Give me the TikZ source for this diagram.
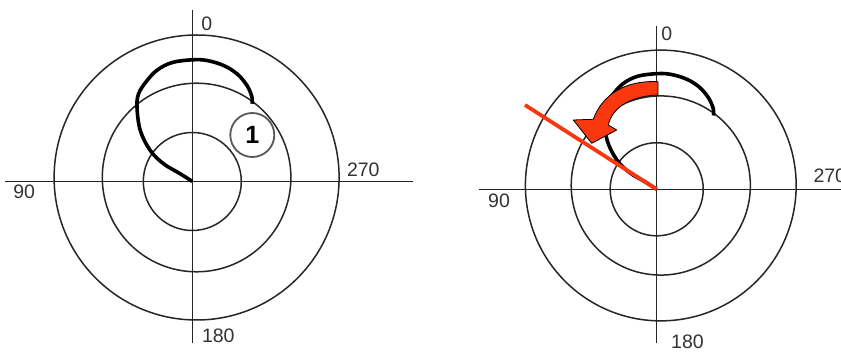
\documentclass[tikz,border=0pt]{standalone}
\usepackage{fontspec}
\setmainfont{Liberation Sans}
\definecolor{hotred}{RGB}{250,55,15}
\newcommand{\mypolar}{%
  \draw[ring] (4.3,-4) circle[radius=142.5];
  \draw[ring] (4.3,-4) circle[radius=94.3];
  \draw[ring] (0,0) circle[radius=49];
  \draw[axis] (-187,0) -- (221,0);
  \draw[axis] (0,-171.5) -- (0,161.5);
  \draw[locus] plot[smooth, tension=0.6] coordinates {(0,0) (-12,-7.7) (-28.7,-17.7) (-42,-31) (-52,-51) (-55.3,-74.3) (-53.7,-87.7) (-46,-100) (-35,-111.5) (-20,-119) (0,-121.7) (14.7,-121) (31.3,-116) (44.7,-107.7) (54.7,-96) (59.7,-84.3) (59.7,-77.7)};
}
\begin{document}
\begin{tikzpicture}[x=1pt,y=-1pt,
  axis/.style={line width=1.5pt, draw=black!85},
  ring/.style={line width=1.5pt, draw=black!85},
  locus/.style={line width=3.6pt, line cap=butt, line join=round, draw=black},
  lbl/.style={font=\fontsize{19.5}{19.5}\selectfont, text=black!80, inner sep=0pt},
  redline/.style={line width=3.8pt, draw=hotred},
  redarrow/.style={fill=hotred, draw=black, line width=0.8pt, line join=round}]
\useasboundingbox (0,0) rectangle (841,352);
\clip (0,0) rectangle (841,352);
\fill[white] (0,0) rectangle (841,352);

% left diagram
\begin{scope}[shift={(192.3,181.5)}]
  \mypolar
\end{scope}
\node[lbl] (l0) at (206.7,24) {0};
\node[lbl] (l270) at (363.3,170) {270};
\node[lbl] (l90) at (24.2,191.7) {90};
\node[lbl] (l180) at (218.3,335.5) {180};
\node[draw=black!65, line width=1.8pt, circle, minimum size=44pt, fill=white, inner sep=0pt,
      font=\fontsize{25}{25}\selectfont\bfseries] (one) at (252.3,135) {1};

% right diagram
\begin{scope}[shift={(656.7,189.3)}, scale=0.95]
  \mypolar
\end{scope}
\node[lbl] (r0) at (666.7,33.3) {0};
\node[lbl, anchor=west] (r270) at (813.3,175.5) {270};
\node[lbl] (r90) at (499,200.8) {90};
\node[lbl] (r180) at (687.5,341.5) {180};

\coordinate (rc) at (656.7,189.3);
\coordinate (rs) at (525,105);
\draw[redline] (rs) -- (rc);
\draw[redarrow] (658,81.7) .. controls (625,80) and (602,95) .. (593.3,119.3)
  -- (573.3,120) -- (591.7,143.3) -- (616.7,130) -- (608.3,125)
  .. controls (612,108) and (630,96) .. (658,95) -- cycle;
\end{tikzpicture}
\end{document}
